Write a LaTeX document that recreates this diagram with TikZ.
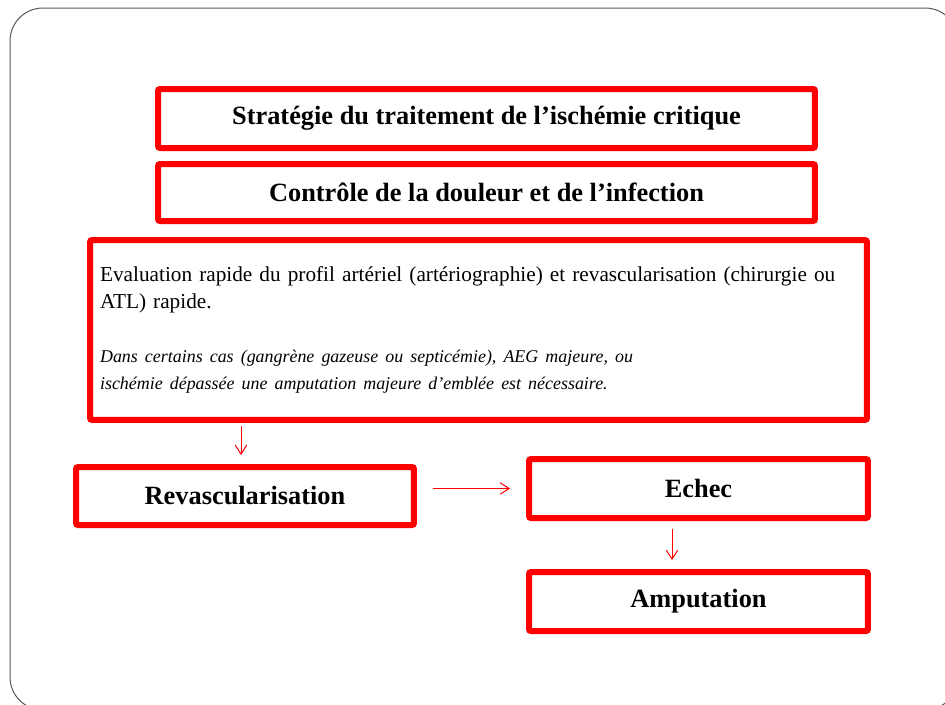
\documentclass[tikz,border=0pt]{standalone}
\usepackage{fontspec}
\setmainfont{Liberation Serif}
\usetikzlibrary{arrows.meta}

\begin{document}
\begin{tikzpicture}[
        x=0.02cm, y=-0.02cm,
        redbox/.style = {draw=red, line width=1.2mm, rounded corners=0.4mm, inner sep=0pt, minimum width=#1},
        redbox/.default = 13.14cm,
        title/.style = {font=\fontsize{15}{18}\selectfont\bfseries},
        link/.style = {red, line width=0.2mm, -{Straight Barb[length=1.8mm,width=2.3mm]}},
    ]
        \useasboundingbox (0,0) rectangle (945,704);
        \clip (0,0) rectangle (945,704);
        \draw[gray!70!black, line width=0.2mm, rounded corners=0.66cm] (10,8) rectangle (958,710);
        % top boxes
        \node[redbox, title, minimum height=1.18cm] (strat) at (486.5,118.5) {Stratégie du traitement de l’ischémie critique};
        \node[redbox, title, minimum height=1.14cm] (ctrl) at (486.5,192.5) {Contrôle de la douleur et de l’infection};
        \node[redbox=15.54cm, minimum height=3.6cm, text width=15.14cm, align=left,
              font=\fontsize{12.1}{15.4}\selectfont] (eval) at (478.5,330)
            {Evaluation rapide du profil artériel (artériographie) et revascularisation (chirurgie ou\\
             ATL) rapide.\\[15.4pt]
             {\fontsize{10.2}{15.4}\selectfont\itshape Dans certains cas (gangrène gazeuse ou septicémie), AEG majeure, ou}\\
             {\fontsize{10.2}{15.4}\selectfont\itshape ischémie dépassée une amputation majeure d’emblée est nécessaire.}};
        % bottom boxes
        \node[redbox=6.76cm, title, minimum height=1.16cm] (revasc) at (245,496) {Revascularisation};
        \node[redbox=6.78cm, title, minimum height=1.18cm] (echec) at (698.5,488.5) {Echec};
        \node[redbox=6.78cm, title, minimum height=1.18cm] (ampu) at (698.5,601.5) {Amputation};
        % arrows
        \draw[link, shorten <=0.06cm, shorten >=0.18cm] ([xshift=-0.08cm]revasc.north |- eval.south) -- ([xshift=-0.08cm]revasc.north);
        \draw[link, shorten <=0.32cm, shorten >=0.32cm] (revasc.east |- echec.west) -- (echec.west);
        \draw[link, shorten <=0.16cm, shorten >=0.18cm] ([xshift=-0.53cm]echec.south) -- ([xshift=-0.53cm]ampu.north);
    \end{tikzpicture}
\end{document}
